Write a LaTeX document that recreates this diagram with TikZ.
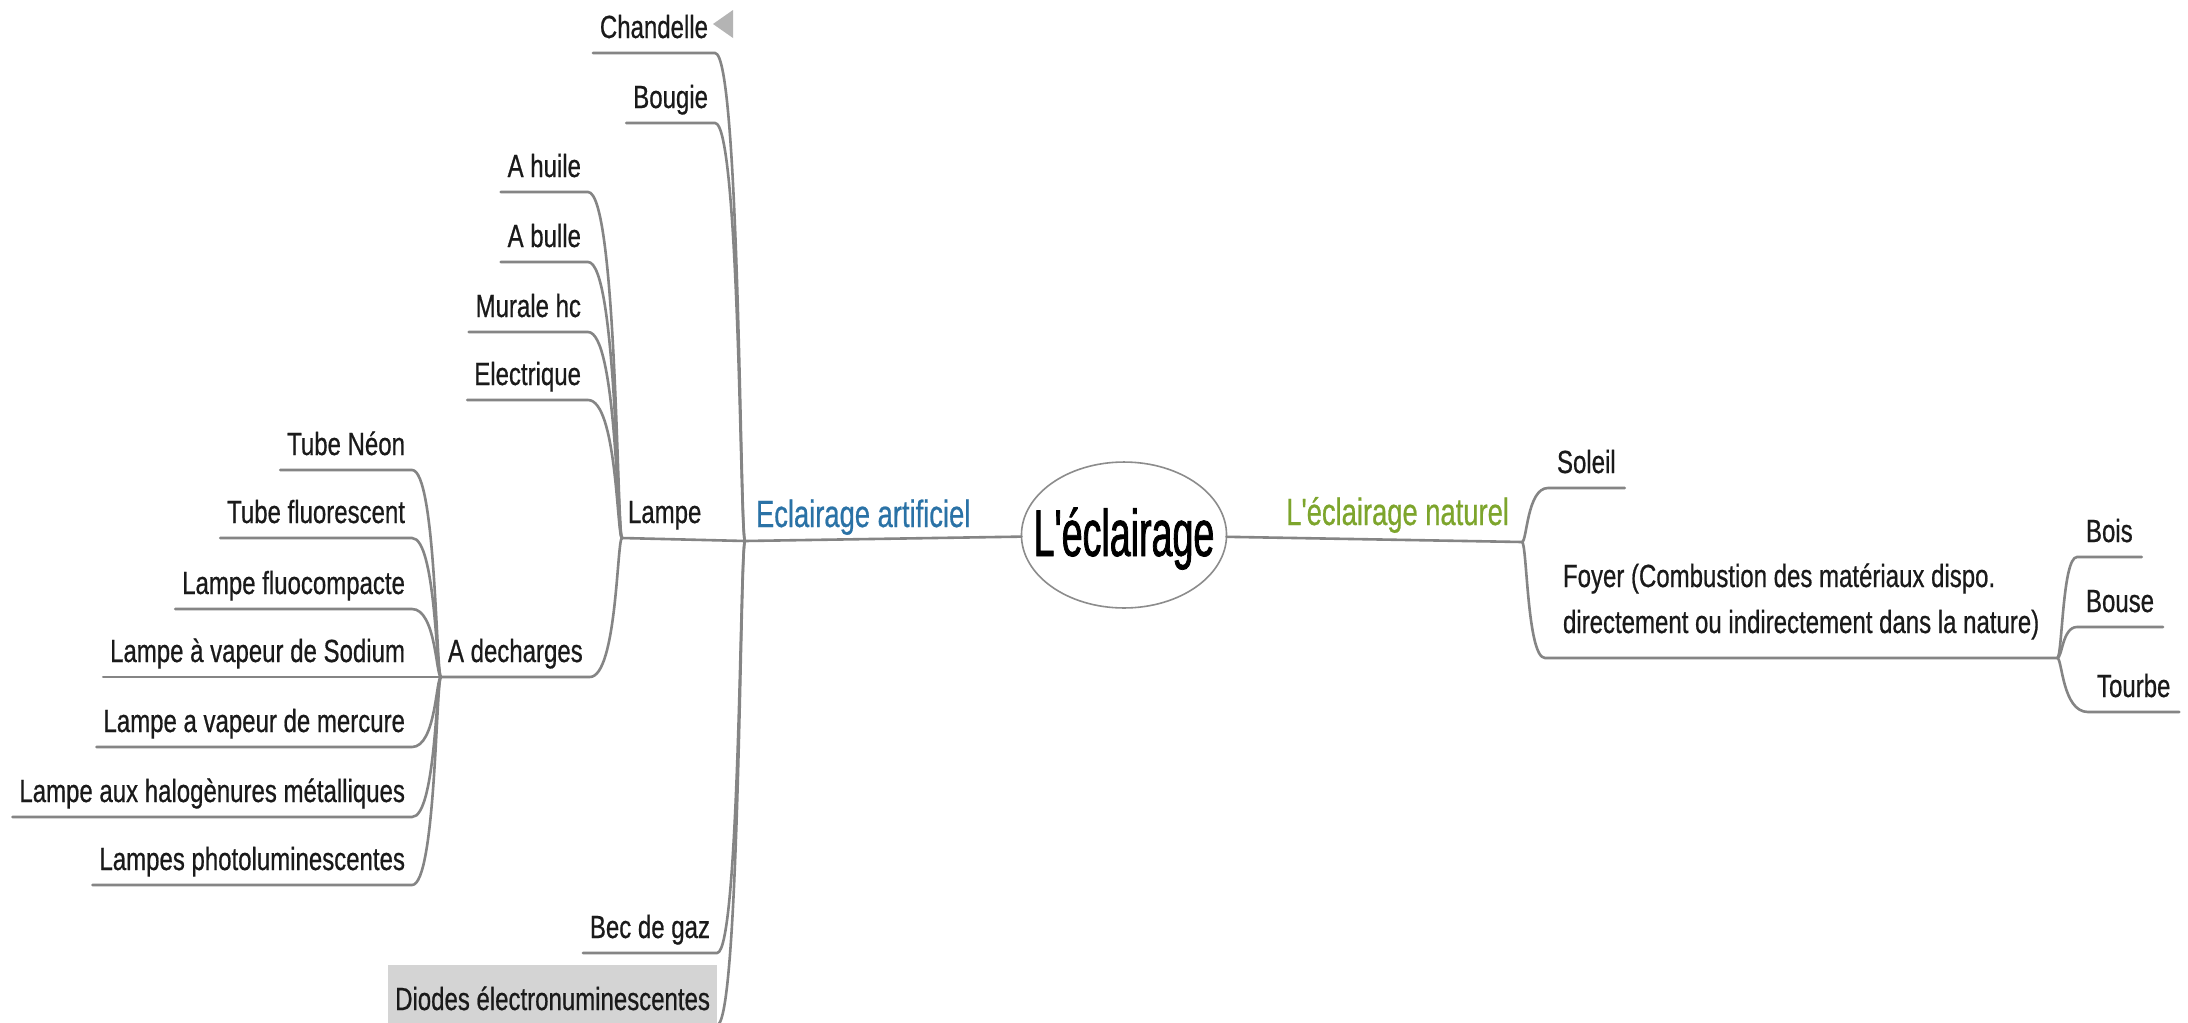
\documentclass[tikz,border=0pt]{standalone}
\usepackage{fontspec}
\setmainfont{Liberation Sans}[FakeStretch=0.75, FakeBold=0.6]
\newfontfamily\topicfam{Liberation Sans}[FakeStretch=0.72, FakeBold=0.6]
\newfontfamily\titlefam{Liberation Sans}[FakeStretch=0.57, FakeBold=1.1]
\usetikzlibrary{shapes.geometric,calc}
\definecolor{linegray}{HTML}{858585}
\definecolor{ellgray}{HTML}{8C8C8C}
\definecolor{artblue}{HTML}{2A72A6}
\definecolor{natgreen}{HTML}{7DA52C}
\definecolor{diodegray}{HTML}{D4D4D4}
\definecolor{trigray}{HTML}{B4B4B4}
\definecolor{leafblack}{HTML}{1A1A1A}
\newcommand\leafsz{\fontsize{32}{46}\selectfont}
\newcommand\lbr[2]{\draw[conn] (#1.south west) -- (#1.south east) .. controls ($(#1.south east -| #2)+(-5,0)$) and ($(#2)+(-5,0)$) .. (#2);}
\newcommand\rbr[2]{\draw[conn] (#2) .. controls ($(#2)+(5,0)$) and ($(#1.south west -| #2)+(5,0)$) .. (#1.south west) -- (#1.south east);}
\tikzset{
  conn/.style={draw=linegray, line width=2.6pt, line cap=round},
  basenode/.style={inner ysep=0pt, outer sep=0pt, text=leafblack},
  leafL/.style={basenode, font=\leafsz, text height=23pt, text depth=15pt, inner xsep=7pt, anchor=south east},
  leafR/.style={basenode, font=\leafsz, text height=23pt, text depth=15pt, inner xsep=9pt, anchor=south west},
  topic/.style={basenode, font=\topicfam\fontsize{38}{44}\selectfont, text height=28pt},
  central/.style={ellipse, draw=ellgray, line width=1.6pt, fill=white, inner xsep=0pt, inner ysep=22.6pt, outer sep=0pt, text height=50pt, text depth=8pt, font=\titlefam\fontsize{66}{70}\selectfont, text=black},
}
\begin{document}
\begin{tikzpicture}[x=1pt, y=-1pt]
\fill[white] (0,0) rectangle (2188,1023);
\useasboundingbox (0,0) rectangle (2188,1023);

% central topic
\node[central] (title) at (1124,535) {\makebox[145pt]{L'éclairage}};

% main topics
\node[topic, text=artblue, anchor=south west, inner xsep=11pt, text depth=14pt] (ea) at (745,541) {Eclairage artificiel};
\node[topic, text=natgreen, anchor=south east, inner xsep=13pt, text depth=17pt] (ln) at (1522,542) {L'éclairage naturel};
\draw[conn] (ea.south west) -- (title);
\draw[conn] (title) -- (ln.south east);

% Eclairage artificiel children
\node[leafL] (chan) at (715,53) {Chandelle};
\fill[trigray] (713,24) -- (733,10) -- (733,38) -- cycle;
\node[leafL] (boug) at (715,123) {Bougie};
\node[basenode, font=\leafsz, text height=23pt, text depth=15pt, inner xsep=6pt, anchor=south west] (lamp) at (622,538) {Lampe};
\node[leafL] (bec) at (717,953) {Bec de gaz};
\node[leafL, fill=diodegray, text height=45pt] (diod) at (717,1025) {Diodes électronuminescentes};
\lbr{chan}{ea.south west}
\lbr{boug}{ea.south west}
\draw[conn] (lamp.south west) -- (ea.south west);
\lbr{bec}{ea.south west}
\lbr{diod}{ea.south west}

% Lampe children
\node[leafL] (huile) at (588,192) {A huile};
\node[leafL] (bulle) at (588,262) {A bulle};
\node[leafL] (murale) at (588,332) {Murale hc};
\node[leafL] (elec) at (588,400) {Electrique};
\node[basenode, font=\leafsz, text height=23pt, text depth=15pt, inner xsep=7pt, anchor=south west] (adech) at (441,677) {A decharges};
\lbr{huile}{lamp.south west}
\lbr{bulle}{lamp.south west}
\lbr{murale}{lamp.south west}
\lbr{elec}{lamp.south west}
\lbr{adech}{lamp.south west}

% A decharges children
\node[leafL] (neon) at (412,470) {Tube Néon};
\node[leafL] (fluo) at (412,538) {Tube fluorescent};
\node[leafL] (compact) at (412,609) {Lampe fluocompacte};
\node[leafL] (sodium) at (412,677) {Lampe à vapeur de Sodium};
\node[leafL] (mercure) at (412,747) {Lampe a vapeur de mercure};
\node[leafL] (halo) at (412,817) {Lampe aux halogènures métalliques};
\node[leafL] (photo) at (412,885) {Lampes photoluminescentes};
\lbr{neon}{adech.south west}
\lbr{fluo}{adech.south west}
\lbr{compact}{adech.south west}
\lbr{sodium}{adech.south west}
\lbr{mercure}{adech.south west}
\lbr{halo}{adech.south west}
\lbr{photo}{adech.south west}

% Eclairage naturel children
\node[leafR] (soleil) at (1548,488) {Soleil};
\node[basenode, font=\leafsz, text depth=25pt, inner xsep=18pt, anchor=south west] (foyer) at (1545,658)
  {\vbox{\hbox{Foyer (Combustion des matériaux dispo.}\hbox{directement ou indirectement dans la nature)}}};
\rbr{soleil}{ln.south east}
\rbr{foyer}{ln.south east}

% Foyer children
\node[leafR] (bois) at (2077,557) {Bois};
\node[leafR] (bouse) at (2077,627) {Bouse};
\node[leafR] (tourbe) at (2088,712) {Tourbe};
\rbr{bois}{foyer.south east}
\rbr{bouse}{foyer.south east}
\rbr{tourbe}{foyer.south east}
\end{tikzpicture}
\end{document}
